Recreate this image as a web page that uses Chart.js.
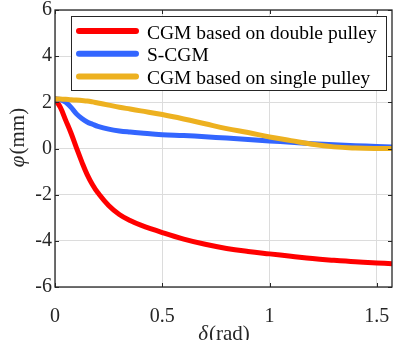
<!DOCTYPE html>
<html>
<head>
<meta charset="utf-8">
<script src="https://cdn.jsdelivr.net/npm/chart.js@4.4.0/dist/chart.umd.min.js"></script>
<style>
  html, body { margin: 0; padding: 0; background: #fff; }
</style>
</head>
<body>
<canvas id="phi-chart" width="395" height="340"></canvas>
<script>
// delta (rad) sample points, shared by all three curves
const delta = [0, 0.025, 0.05, 0.075, 0.1, 0.125, 0.15, 0.175, 0.2, 0.25, 0.3, 0.35, 0.4,
  0.5, 0.6, 0.7, 0.8, 0.9, 1.0, 1.1, 1.2, 1.3, 1.4, 1.5, 1.5708]
const phiDouble = [2.15, 1.78, 1.22, 0.66, 0.03, -0.58, -1.13, -1.57, -1.92, -2.47, -2.86, -3.12, -3.32,
  -3.64, -3.925, -4.15, -4.33, -4.46, -4.565, -4.665, -4.77, -4.845, -4.91, -4.96, -4.99]
const phiS = [2.15, 2.12, 2.0, 1.78, 1.5, 1.3, 1.15, 1.05, 0.96, 0.84, 0.76, 0.71, 0.67,
  0.6, 0.56, 0.51, 0.45, 0.39, 0.33, 0.27, 0.21, 0.16, 0.12, 0.09, 0.07]
const phiSingle = [2.15, 2.14, 2.13, 2.11, 2.1, 2.08, 2.06, 2.02, 1.97, 1.88, 1.79, 1.71, 1.63,
  1.47, 1.28, 1.07, 0.86, 0.69, 0.5, 0.34, 0.18, 0.07, 0.02, 0.0, 0.0]

const seriesNames = ["CGM based on double pulley", "S-CGM", "CGM based on single pulley"]
const xTicks = [0, 0.5, 1, 1.5]
const yTicks = [-6, -4, -2, 0, 2, 4, 6]
const xMax = 1.5708

const FONT = "'Liberation Serif', 'Times New Roman', serif"
const AXIS = '#262626'

const toPoints = (ys) => delta.map((d, i) => ({ x: d, y: ys[i] }))

// draw "italic greek + normal rest", centred on (0,0) of current transform
const drawMixed = (ctx, greek, rest, size) => {
  ctx.font = `italic ${size}px ${FONT}`
  const w1 = ctx.measureText(greek).width
  ctx.font = `${size}px ${FONT}`
  const w2 = ctx.measureText(rest).width
  const x0 = -(w1 + w2) / 2
  ctx.textAlign = 'left'
  ctx.textBaseline = 'alphabetic'
  ctx.font = `italic ${size}px ${FONT}`
  ctx.fillText(greek, x0, 0)
  ctx.font = `${size}px ${FONT}`
  ctx.fillText(rest, x0 + w1 + 1, 0)
}

const matlabLook = {
  id: 'matlabLook',
  afterDraw: (chart) => {
    const { ctx, chartArea: a, scales } = chart
    ctx.save()
    ctx.strokeStyle = AXIS
    ctx.lineWidth = 1
    // inward ticks on all four sides
    ctx.beginPath()
    xTicks.forEach((v) => {
      const px = Math.round(scales.x.getPixelForValue(v)) + 0.5
      ctx.moveTo(px, a.bottom); ctx.lineTo(px, a.bottom - 4)
      ctx.moveTo(px, a.top); ctx.lineTo(px, a.top + 4)
    })
    yTicks.forEach((v) => {
      const py = Math.round(scales.y.getPixelForValue(v)) + 0.5
      ctx.moveTo(a.left, py); ctx.lineTo(a.left + 4, py)
      ctx.moveTo(a.right, py); ctx.lineTo(a.right - 4, py)
    })
    ctx.stroke()
    ctx.lineWidth = 1.3
    ctx.strokeRect(a.left, a.top, a.right - a.left, a.bottom - a.top)

    // legend box
    const lx = a.left + 16, ly = a.top + 6, lw = a.right - a.left - 22, lh = 74
    ctx.fillStyle = '#fff'
    ctx.fillRect(lx, ly, lw, lh)
    ctx.lineWidth = 1
    ctx.strokeRect(lx + 0.5, ly + 0.5, lw, lh)
    chart.data.datasets.forEach((ds, i) => {
      const ry = ly + 15 + i * 22.7
      ctx.strokeStyle = ds.borderColor
      ctx.lineWidth = 6
      ctx.lineCap = 'round'
      ctx.beginPath()
      ctx.moveTo(lx + 8, ry); ctx.lineTo(lx + 65, ry)
      ctx.stroke()
      ctx.fillStyle = '#000'
      ctx.font = `19.5px ${FONT}`
      ctx.textAlign = 'left'
      ctx.textBaseline = 'alphabetic'
      ctx.fillText(ds.label, lx + 76, ry + 7.5)
    })

    // axis titles
    ctx.fillStyle = AXIS
    ctx.save()
    ctx.translate((a.left + a.right) / 2, 340)
    drawMixed(ctx, 'δ', '(rad)', 21)
    ctx.restore()
    ctx.save()
    ctx.translate(24, 138)
    ctx.rotate(-Math.PI / 2)
    drawMixed(ctx, 'φ', '(mm)', 21)
    ctx.restore()
    ctx.restore()
  }
}

new Chart(document.getElementById('phi-chart'), {
  type: 'line',
  data: {
    datasets: [
      { label: seriesNames[0], data: toPoints(phiDouble), borderColor: '#ff0000', order: 2 },
      { label: seriesNames[1], data: toPoints(phiS), borderColor: '#3366ff', order: 1 },
      { label: seriesNames[2], data: toPoints(phiSingle), borderColor: '#edb120', order: 0 },
    ]
  },
  options: {
    responsive: false,
    animation: false,
    layout: { padding: { top: 10, right: 3, left: 0, bottom: 0 } },
    elements: {
      point: { radius: 0 },
      line: { borderWidth: 5, borderCapStyle: 'round', borderJoinStyle: 'round', tension: 0.4, fill: false }
    },
    plugins: { legend: { display: false }, tooltip: { enabled: false } },
    scales: {
      x: {
        type: 'linear', min: 0, max: xMax,
        afterBuildTicks: (s) => { s.ticks = xTicks.map((v) => ({ value: v })) },
        afterFit: (s) => { s.height = 53; s.paddingLeft = 0; s.paddingRight = 0 },
        grid: { color: '#dcdcdc', drawTicks: false },
        border: { display: false },
        ticks: { padding: 18, color: AXIS, font: { family: FONT, size: 20 }, callback: (v) => String(v), maxRotation: 0 }
      },
      y: {
        type: 'linear', min: -6, max: 6,
        afterBuildTicks: (s) => { s.ticks = yTicks.map((v) => ({ value: v })) },
        afterFit: (s) => { s.width = 55; s.paddingTop = 0; s.paddingBottom = 0 },
        grid: { color: '#dcdcdc', drawTicks: false },
        border: { display: false },
        ticks: { padding: 3, color: AXIS, font: { family: FONT, size: 20 }, callback: (v) => String(v) }
      }
    }
  },
  plugins: [matlabLook]
})
</script>
</body>
</html>
